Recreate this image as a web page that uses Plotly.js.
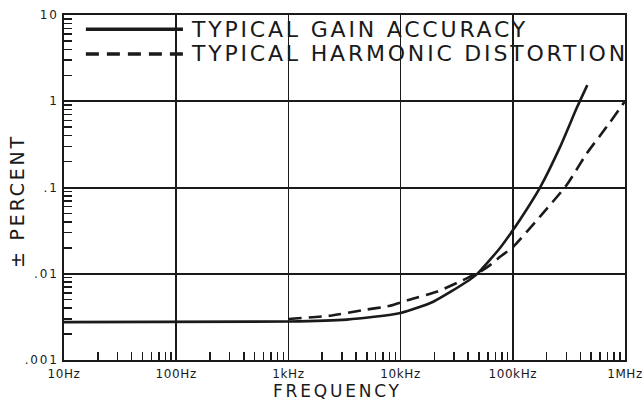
<!DOCTYPE html>
<html><head><meta charset="utf-8">
<script src="https://cdn.plot.ly/plotly-3.0.1.min.js"></script>
<style>
html,body{margin:0;padding:0;background:#fff}
#chart{width:642px;height:400px}
.annotation-text{letter-spacing:2.8px}
.ytick text{letter-spacing:1.8px}
.xtick text{letter-spacing:0.6px}
</style>
</head><body><div id="chart"></div>
<script>
// Data (frequency in Hz, value in ± percent)
const gainFreq = [10, 1000, 3310, 10000, 19540, 38800, 47640, 76900, 96400, 115900, 174700, 263400, 373500, 461400];
const gainPct  = [0.00275, 0.00279, 0.00294, 0.00351, 0.00474, 0.00807, 0.00984, 0.0199, 0.0298, 0.0423, 0.0998, 0.294, 0.85, 1.54];
const distFreq = [1000, 2350, 4620, 8050, 11720, 20990, 38800, 51000, 62700, 76900, 101000, 174700, 302000, 456000, 687000, 1000000];
const distPct  = [0.00299, 0.00326, 0.00379, 0.00425, 0.00495, 0.00618, 0.00885, 0.01055, 0.0126, 0.0157, 0.0206, 0.046, 0.107, 0.248, 0.505, 1.0];
const seriesNames = ['TYPICAL GAIN ACCURACY', 'TYPICAL HARMONIC DISTORTION'];
const xTickVals = [10, 100, 1000, 10000, 100000, 1000000];
const xTickText = ['10Hz', '100Hz', '1kHz', '10kHz', '100kHz', '1MHz'];
const yTickVals = [0.001, 0.01, 0.1, 1, 10];
const yTickText = ['.001', '.01', '.1', '1', '10'];
const xTitle = 'FREQUENCY';
const yTitle = '± PERCENT';

function minorVals(decades) {
  const out = [];
  for (let i = 0; i < decades.length - 1; i++) {
    for (let k = 2; k <= 9; k++) out.push(decades[i] * k);
  }
  return out;
}

const FONT = 'DejaVu Sans, sans-serif';
const INK = '#1a1a1a';

const traces = [
  {x: gainFreq, y: gainPct, name: seriesNames[0], type: 'scatter', mode: 'lines',
   line: {color: INK, width: 2.6, shape: 'spline', smoothing: 0.6}, showlegend: false},
  {x: distFreq, y: distPct, name: seriesNames[1], type: 'scatter', mode: 'lines',
   line: {color: INK, width: 2.6, dash: '13px,7px', shape: 'spline', smoothing: 0.6}, showlegend: false}
];

// legend drawn manually (paper coords)
const legY = [0.959, 0.887];
const layout = {
  width: 642, height: 400,
  margin: {l: 64, r: 17, t: 15, b: 40},
  paper_bgcolor: '#fff', plot_bgcolor: '#fff',
  showlegend: false,
  font: {family: FONT, color: INK},
  xaxis: {
    type: 'log', range: [1, 6],
    tickmode: 'array', tickvals: xTickVals, ticktext: xTickText,
    ticks: '', tickfont: {size: 12, family: FONT, color: INK}, ticklabelstandoff: 2,
    ticklabeloverflow: 'allow',
    showgrid: true, gridcolor: INK, gridwidth: 1.5,
    showline: true, linecolor: INK, linewidth: 2, mirror: true,
    zeroline: false,
    minor: {tickmode: 'array', tickvals: minorVals(xTickVals), ticks: 'inside', ticklen: 8, tickwidth: 1.5, tickcolor: INK, showgrid: false}
  },
  yaxis: {
    type: 'log', range: [-3, 1],
    tickmode: 'array', tickvals: yTickVals, ticktext: yTickText,
    ticks: '', tickfont: {size: 12, family: FONT, color: INK}, ticklabelstandoff: 1,
    showgrid: true, gridcolor: INK, gridwidth: 2,
    showline: true, linecolor: INK, linewidth: 2, mirror: true,
    zeroline: false,
    minor: {tickmode: 'array', tickvals: minorVals(yTickVals), ticks: 'inside', ticklen: 8, tickwidth: 1.5, tickcolor: INK, showgrid: false}
  },
  shapes: [
    {type: 'rect', xref: 'paper', yref: 'paper', x0: 0.004, x1: 0.996, y0: 0.803, y1: 0.995,
     fillcolor: '#fff', line: {width: 0}, layer: 'between'},
    {type: 'line', xref: 'paper', yref: 'paper', x0: 0.039, x1: 0.212, y0: legY[0], y1: legY[0],
     line: {color: INK, width: 3.5}},
    {type: 'line', xref: 'paper', yref: 'paper', x0: 0.039, x1: 0.212, y0: legY[1], y1: legY[1],
     line: {color: INK, width: 3.5, dash: '13px,8px'}}
  ],
  annotations: [
    {xref: 'paper', yref: 'paper', x: 0.222, y: legY[0], xanchor: 'left', yanchor: 'middle',
     text: seriesNames[0], showarrow: false, font: {size: 22, family: FONT, color: INK}},
    {xref: 'paper', yref: 'paper', x: 0.222, y: legY[1], xanchor: 'left', yanchor: 'middle',
     text: seriesNames[1], showarrow: false, font: {size: 22, family: FONT, color: INK}},
    // axis titles
    {xref: 'paper', yref: 'paper', x: 0.488, y: -0.0885, xanchor: 'center', yanchor: 'middle',
     text: xTitle, showarrow: false, font: {size: 17, family: FONT, color: INK}},
    {xref: 'paper', yref: 'paper', x: -0.0838, y: 0.461, xanchor: 'center', yanchor: 'middle',
     text: yTitle, textangle: -90, showarrow: false, font: {size: 19, family: FONT, color: INK}}
  ]
};

Plotly.newPlot('chart', traces, layout, {displayModeBar: false, staticPlot: true});
</script>
</body></html>
